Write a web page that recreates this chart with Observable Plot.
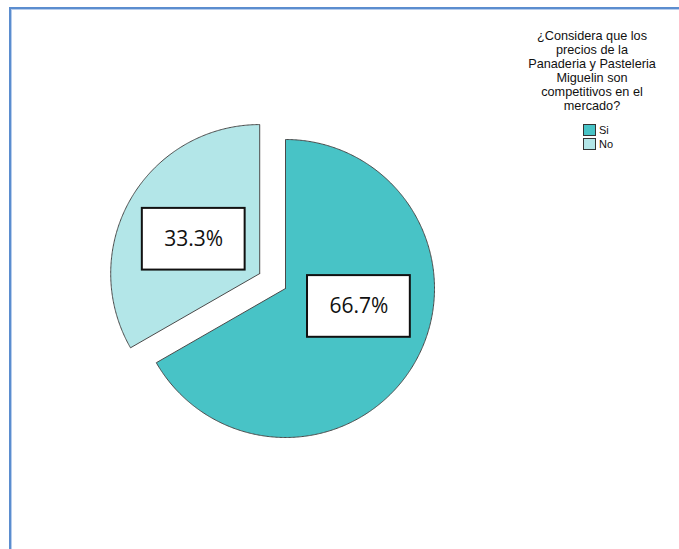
<!DOCTYPE html>
<html>
<head>
<meta charset="utf-8">
<script src="https://cdn.jsdelivr.net/npm/d3@7"></script>
<script src="https://cdn.jsdelivr.net/npm/@observablehq/plot@0.6"></script>
<style>
  html, body { margin: 0; padding: 0; background: #fff; }
  #wrap { position: relative; width: 679px; height: 549px; overflow: hidden; }
  #frame { position: absolute; left: 9px; top: 7px; right: -10px; bottom: -10px;
           border-top: 2px solid #5b8dcf; border-left: 2px solid #5b8dcf;
           box-shadow: inset 1px 1px 0 #b7cdec; pointer-events: none; }
  #chart { position: absolute; left: 0; top: 0; }
  #legend { position: absolute; left: 512px; top: 30px; width: 160px;
            font-family: "Liberation Sans", Arial, sans-serif; color: #111; }
  #legend .title { font-size: 12.7px; line-height: 13.9px; text-align: center; }
  #legend .items { position: absolute; left: 71px; top: 93px; font-size: 11px; }
  #legend .item { display: flex; align-items: center; height: 14px; }
  #legend .sw { width: 11px; height: 10px; border: 1px solid #333; margin-right: 3px; }
</style>
</head>
<body>
<div id="wrap">
  <div id="chart"></div>
  <div id="frame"></div>
  <div id="legend"></div>
</div>
<script>
// ---- data ----
const categories = ["Si", "No"];
const values = [66.7, 33.3];
const labels = ["66.7%", "33.3%"];
const colors = ["#48C3C6", "#B3E6E8"];
const legendTitle = ["¿Considera que los", "precios de la", "Panaderia y Pasteleria", "Miguelin son", "competitivos en el", "mercado?"];

// ---- geometry (unit circle, clockwise from 12 o'clock) ----
const explode = [0, 0.2];           // offset of slice, fraction of radius
const labelNudge = [[0.06, 0.13], [-0.01, -0.02]]; // label nudge, fraction of radius
const total = d3.sum(values);
const pts = [];
const boxes = [];
let cum = 0;
categories.forEach((c, i) => {
  const a0 = cum / total * 2 * Math.PI;
  cum += values[i];
  const a1 = cum / total * 2 * Math.PI;
  const mid = (a0 + a1) / 2;
  const ox = explode[i] * Math.sin(mid), oy = explode[i] * Math.cos(mid);
  pts.push({cat: c, x: ox, y: oy});
  const n = Math.max(2, Math.ceil((a1 - a0) / (Math.PI / 360)));
  for (let k = 0; k <= n; k++) {
    const a = a0 + (a1 - a0) * k / n;
    pts.push({cat: c, x: ox + Math.sin(a), y: oy + Math.cos(a)});
  }
  pts.push({cat: c, x: ox, y: oy});
  const lx = ox + 0.5 * Math.sin(mid) + labelNudge[i][0];
  const ly = oy + 0.5 * Math.cos(mid) + labelNudge[i][1];
  const hw = 0.345, hh = 0.207;
  boxes.push({cat: c, label: labels[i], x: lx, y: ly, x1: lx - hw, x2: lx + hw, y1: ly - hh, y2: ly + hh});
});

const R = 149, CX = 285, CY = 288;
const plot = Plot.plot({
  width: 679,
  height: 549,
  margin: 0,
  x: {domain: [-1, 1], range: [CX - R, CX + R], axis: null},
  y: {domain: [-1, 1], range: [CY + R, CY - R], axis: null},
  color: {domain: categories, range: colors},
  style: {background: "transparent"},
  marks: [
    ...categories.map((c) =>
      Plot.line(pts.filter(p => p.cat === c), {x: "x", y: "y", fill: "cat", stroke: "#4a4a4a", strokeWidth: 1, curve: "linear"})
    ),
    Plot.rect(boxes, {x1: "x1", x2: "x2", y1: "y1", y2: "y2", fill: "white", stroke: "#111", strokeWidth: 2}),
    Plot.text(boxes, {x: "x", y: "y", text: "label", fontSize: 21, fontFamily: "Open Sans", fill: "#111", textAnchor: "middle", lineAnchor: "middle"})
  ]
});
document.getElementById("chart").appendChild(plot);

// ---- legend ----
const lg = document.getElementById("legend");
const t = document.createElement("div");
t.className = "title";
t.innerHTML = legendTitle.map(s => s.replace(/&/g, "&amp;")).join("<br>");
lg.appendChild(t);
const items = document.createElement("div");
items.className = "items";
categories.forEach((c, i) => {
  const it = document.createElement("div");
  it.className = "item";
  const sw = document.createElement("div");
  sw.className = "sw";
  sw.style.background = colors[i];
  it.appendChild(sw);
  const tx = document.createElement("span");
  tx.textContent = c;
  it.appendChild(tx);
  items.appendChild(it);
});
lg.appendChild(items);
</script>
</body>
</html>
